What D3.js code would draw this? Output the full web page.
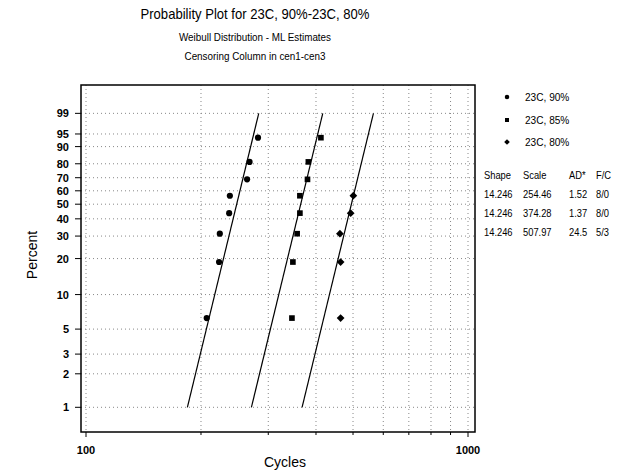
<!DOCTYPE html>
<html>
<head>
<meta charset="utf-8">
<script src="https://cdn.jsdelivr.net/npm/d3@7"></script>
<style>
  body { margin: 0; background: #fff; }
  text { font-family: "Liberation Sans", Arial, sans-serif; fill: #000; }
</style>
</head>
<body>
<div id="chart"></div>
<script>
// plotting positions (percent) and failure times
var pct = [6.25, 18.75, 31.25, 43.75, 56.25, 68.75, 81.25, 93.75]
var cyc90 = [207, 223, 224, 237, 238, 264, 268, 282]
var cyc85 = [346, 348, 357, 363, 363, 380, 382, 412]
var cyc80 = [464, 464, 462, 493, 501]

var seriesNames = ["23C, 90%", "23C, 85%", "23C, 80%"]
var shapes = [14.246, 14.246, 14.246]
var scales = [254.46, 374.28, 507.97]
var adStats = ["1.52", "1.37", "24.5"]
var fc = ["8/0", "8/0", "5/3"]

var yTicks = [1, 2, 3, 5, 10, 20, 30, 40, 50, 60, 70, 80, 90, 95, 99]
var xMajor = [100, 1000]
var xGrid = [100, 200, 300, 400, 500, 600, 700, 800, 900, 1000]

var width = 622, height = 475
var plot = { left: 81, right: 475, top: 85, bottom: 432 }

var svg = d3.select("#chart").append("svg")
    .attr("width", width)
    .attr("height", height)

// weibull probability transform
function wb(p) { return Math.log(-Math.log(1 - p / 100)) }

var x = d3.scaleLog().domain([97.03, 1043]).range([plot.left, plot.right])
var y = d3.scaleLinear().domain([-5.115, 2.118]).range([plot.bottom, plot.top])

// grid
svg.append("g").selectAll("line")
    .data(xGrid).enter().append("line")
    .attr("x1", d => x(d)).attr("x2", d => x(d))
    .attr("y1", plot.top).attr("y2", plot.bottom)
    .attr("stroke", "#888").attr("stroke-width", 1)
    .attr("stroke-dasharray", "1,3")

svg.append("g").selectAll("line")
    .data(yTicks).enter().append("line")
    .attr("x1", plot.left).attr("x2", plot.right)
    .attr("y1", d => y(wb(d))).attr("y2", d => y(wb(d)))
    .attr("stroke", "#888").attr("stroke-width", 1)
    .attr("stroke-dasharray", "1,3")

// frame
svg.append("rect")
    .attr("x", plot.left).attr("y", plot.top)
    .attr("width", plot.right - plot.left).attr("height", plot.bottom - plot.top)
    .attr("fill", "none").attr("stroke", "#000").attr("stroke-width", 1.5)

// y axis ticks + labels
var yAx = svg.append("g")
yAx.selectAll("line").data(yTicks).enter().append("line")
    .attr("x1", plot.left - 6).attr("x2", plot.left)
    .attr("y1", d => y(wb(d))).attr("y2", d => y(wb(d)))
    .attr("stroke", "#000")
yAx.selectAll("text").data(yTicks).enter().append("text")
    .attr("x", plot.left - 12).attr("y", d => y(wb(d)) + 4)
    .attr("text-anchor", "end").attr("font-size", 11)
    .attr("font-weight", "bold")
    .text(d => d)

// x axis ticks + labels
var xAx = svg.append("g")
xAx.selectAll("line").data(xGrid).enter().append("line")
    .attr("x1", d => x(d)).attr("x2", d => x(d))
    .attr("y1", plot.bottom)
    .attr("y2", d => xMajor.includes(d) ? plot.bottom + 5 : plot.bottom + 3)
    .attr("stroke", "#000")
xAx.selectAll("text").data(xMajor).enter().append("text")
    .attr("x", d => x(d)).attr("y", plot.bottom + 22)
    .attr("text-anchor", "middle").attr("font-size", 11)
    .attr("font-weight", "bold")
    .text(d => d)

// fitted lines from 1% to 99%
var fitG = svg.append("g")
scales.forEach(function (eta, i) {
    var beta = shapes[i]
    var ends = [1, 99].map(p => [eta * Math.exp(wb(p) / beta), p])
    fitG.append("line")
        .attr("x1", x(ends[0][0])).attr("y1", y(wb(ends[0][1])))
        .attr("x2", x(ends[1][0])).attr("y2", y(wb(ends[1][1])))
        .attr("stroke", "#000").attr("stroke-width", 1.2)
})

// points (diamond = square turned 45deg)
var symbols = [d3.symbolCircle, d3.symbolSquare, d3.symbolSquare]
var rot = [0, 0, 45]
var symSizes = [30, 32, 30]
var allData = [cyc90, cyc85, cyc80]
allData.forEach(function (arr, i) {
    svg.append("g").selectAll("path")
        .data(arr).enter().append("path")
        .attr("d", d3.symbol().type(symbols[i]).size(symSizes[i]))
        .attr("transform", (d, j) => "translate(" + x(d) + "," + y(wb(pct[j])) + ") rotate(" + rot[i] + ")")
        .attr("fill", "#000")
})

// titles
svg.append("text").attr("x", 255).attr("y", 19)
    .attr("text-anchor", "middle").attr("font-size", 15)
    .attr("textLength", 229).attr("lengthAdjust", "spacingAndGlyphs")
    .text("Probability Plot for 23C, 90%-23C, 80%")
svg.append("text").attr("x", 255).attr("y", 41)
    .attr("text-anchor", "middle").attr("font-size", 11)
    .attr("textLength", 152).attr("lengthAdjust", "spacingAndGlyphs")
    .text("Weibull Distribution - ML Estimates")
svg.append("text").attr("x", 255).attr("y", 60)
    .attr("text-anchor", "middle").attr("font-size", 11)
    .attr("textLength", 141).attr("lengthAdjust", "spacingAndGlyphs")
    .text("Censoring Column in cen1-cen3")

// axis titles
svg.append("text").attr("x", 285).attr("y", 467)
    .attr("text-anchor", "middle").attr("font-size", 14)
    .text("Cycles")
svg.append("text")
    .attr("transform", "translate(37,255) rotate(-90)")
    .attr("text-anchor", "middle").attr("font-size", 14)
    .text("Percent")

// condensed text helper: squeeze horizontally
function narrow(g, tx, ty, str, sx) {
    return g.append("text")
        .attr("transform", "translate(" + tx + "," + ty + ") scale(" + sx + ",1)")
        .attr("font-size", 11)
        .text(str)
}

// legend
var legY = [97, 120, 142]
var leg = svg.append("g")
seriesNames.forEach(function (n, i) {
    leg.append("path")
        .attr("d", d3.symbol().type(symbols[i]).size(16))
        .attr("transform", "translate(507," + legY[i] + ") rotate(" + rot[i] + ")")
        .attr("fill", "#000")
    narrow(leg, 525, legY[i] + 4, n, 0.92)
})

// table
var colX = [484, 523, 569, 596]
var header = ["Shape", "Scale", "AD*", "F/C"]
var tbl = svg.append("g")
header.forEach(function (h, k) {
    narrow(tbl, colX[k], 179, h, 0.85)
})
var rowY = [198, 217, 236]
scales.forEach(function (s, i) {
    var row = [shapes[i].toFixed(3), s.toFixed(2), adStats[i], fc[i]]
    row.forEach(function (v, k) {
        narrow(tbl, colX[k], rowY[i], v, 0.85)
    })
})
</script>
</body>
</html>
